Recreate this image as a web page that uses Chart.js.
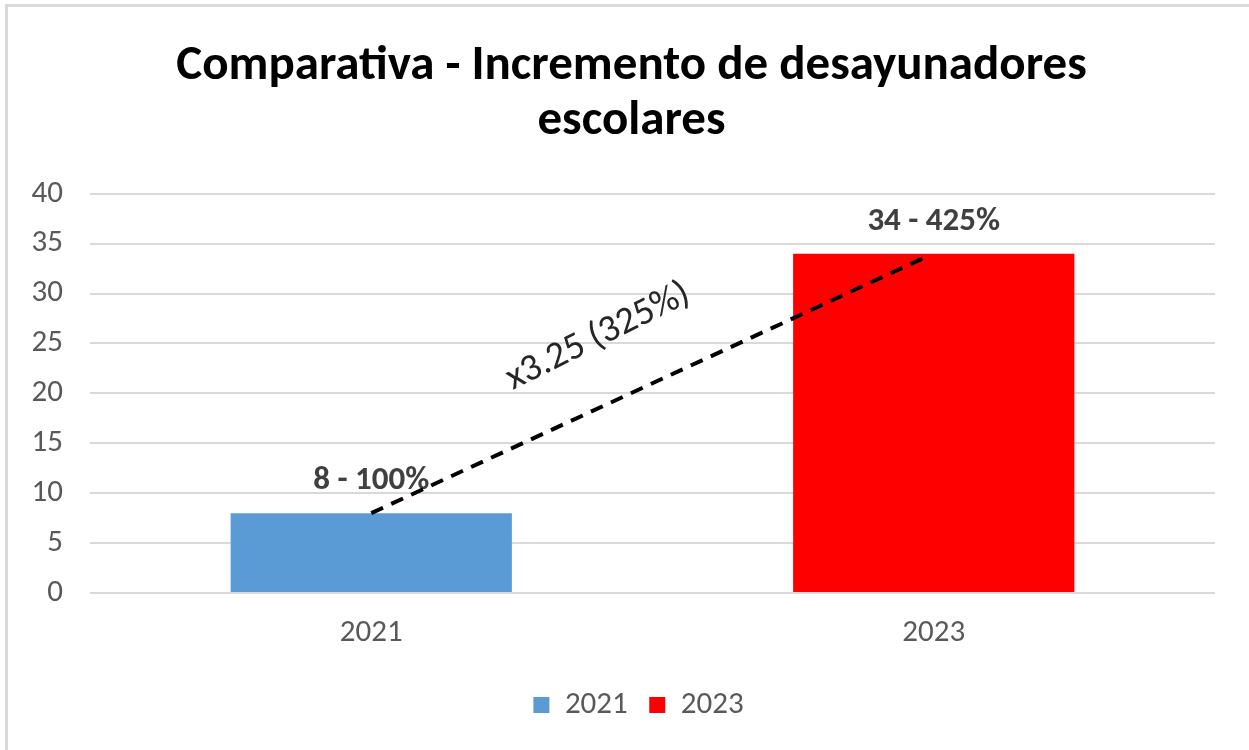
<!DOCTYPE html>
<html>
<head>
<meta charset="utf-8">
<script src="https://cdn.jsdelivr.net/npm/chart.js@4"></script>
<style>
  html, body { margin: 0; padding: 0; background: #ffffff; overflow: hidden; }
  #wrap { position: absolute; left: 0; top: 0; width: 1249px; height: 750px; }
</style>
</head>
<body>
<div id="wrap"><canvas id="c" width="1249" height="750"></canvas></div>
<script>
// ---- data ----
const categories = ['2021', '2023'];
const values = [8, 34];
const percentLabels = ['100%', '425%'];
const barColors = ['#5B9BD5', '#FF0000'];
const growthLabel = 'x3.25 (325%)';
const titleLines = ['Comparativa - Incremento de desayunadores', 'escolares'];
const yTicks = { min: 0, max: 40, step: 5 };

const FONT = 'Carlito, Lato, "Open Sans", sans-serif';

const framePlugin = {
  id: 'frame',
  afterLayout(chart) {
    // centre title and legend on the whole chart frame like the original
    if (chart.titleBlock) { chart.titleBlock.left += 19; chart.titleBlock.right += 19; }
    if (chart.legend) {
      chart.legend.left += 26; chart.legend.right += 26;
      if (chart.legend.adjustHitBoxes) chart.legend.adjustHitBoxes();
    }
  },
  beforeDraw(chart) {
    const ctx = chart.ctx;
    ctx.save();
    ctx.fillStyle = '#ffffff';
    ctx.fillRect(0, 0, chart.width, chart.height);
    ctx.fillStyle = '#d9d9d9';
    ctx.fillRect(5, 4, chart.width - 5, 3);
    ctx.fillRect(5, 4, 3, chart.height - 4);
    ctx.restore();
  }
};

const annotPlugin = {
  id: 'annot',
  afterDatasetsDraw(chart) {
    const ctx = chart.ctx;
    const meta = chart.getDatasetMeta(0);
    const a = meta.data[0], b = meta.data[1];
    ctx.save();
    // value labels
    ctx.font = 'bold 33px ' + FONT;
    ctx.fillStyle = '#404040';
    ctx.textAlign = 'center';
    ctx.textBaseline = 'alphabetic';
    meta.data.forEach((el, i) => {
      ctx.fillText(values[i] + ' - ' + percentLabels[i], el.x, el.y - 24);
    });
    // dashed connector
    ctx.strokeStyle = '#000000';
    ctx.lineWidth = 4;
    ctx.setLineDash([13, 9]);
    ctx.beginPath();
    ctx.moveTo(a.x, a.y);
    ctx.lineTo(b.x - 5, b.y + 2);
    ctx.stroke();
    ctx.setLineDash([]);
    // rotated growth label
    const ang = Math.atan2(b.y - a.y, b.x - a.x) - 0.03;
    const t = 0.455;
    const mx = a.x + (b.x - a.x) * t;
    const my = a.y + (b.y - a.y) * t;
    const off = 65;
    const px = mx + Math.sin(ang) * off;
    const py = my - Math.cos(ang) * off;
    ctx.translate(px, py);
    ctx.rotate(ang);
    ctx.font = '38px ' + FONT;
    ctx.fillStyle = '#262626';
    ctx.textAlign = 'center';
    ctx.textBaseline = 'middle';
    ctx.fillText(growthLabel, 0, 0);
    ctx.restore();
  }
};

new Chart(document.getElementById('c'), {
  type: 'bar',
  data: {
    labels: categories,
    datasets: [{
      label: 'Desayunadores',
      data: values,
      backgroundColor: barColors,
      borderWidth: 0,
      categoryPercentage: 1.0,
      barPercentage: 0.5
    }]
  },
  options: {
    responsive: false,
    animation: false,
    events: [],
    layout: { padding: { left: 10, right: 34, top: 4, bottom: 19.5 } },
    plugins: {
      title: {
        display: true,
        text: titleLines,
        color: '#000000',
        font: { family: FONT, size: 49, weight: 'bold', lineHeight: 1.12 },
        padding: { top: 35, bottom: 45 }
      },
      legend: {
        display: true,
        position: 'bottom',
        labels: {
          color: '#595959',
          font: { family: FONT, size: 31 },
          boxWidth: 16,
          boxHeight: 16,
          padding: 21.5,
          generateLabels(chart) {
            return categories.map((c, i) => ({
              text: c,
              fillStyle: barColors[i],
              strokeStyle: barColors[i],
              lineWidth: 0,
              fontColor: '#595959',
              hidden: false,
              index: i,
              datasetIndex: 0
            }));
          }
        }
      },
      tooltip: { enabled: false }
    },
    scales: {
      x: {
        afterFit(scale) { scale.height = 75; },
        grid: { display: false, drawTicks: false, tickLength: 0 },
        border: { display: false },
        ticks: { color: '#595959', font: { family: FONT, size: 31 }, padding: 22 }
      },
      y: {
        min: yTicks.min,
        max: yTicks.max,
        afterFit(scale) { scale.width = 80; },
        grid: { color: '#d9d9d9', lineWidth: 2, drawTicks: false },
        border: { display: false },
        ticks: { stepSize: yTicks.step, color: '#595959', font: { family: FONT, size: 31 }, padding: 27 }
      }
    }
  },
  plugins: [framePlugin, annotPlugin]
});
</script>
</body>
</html>
